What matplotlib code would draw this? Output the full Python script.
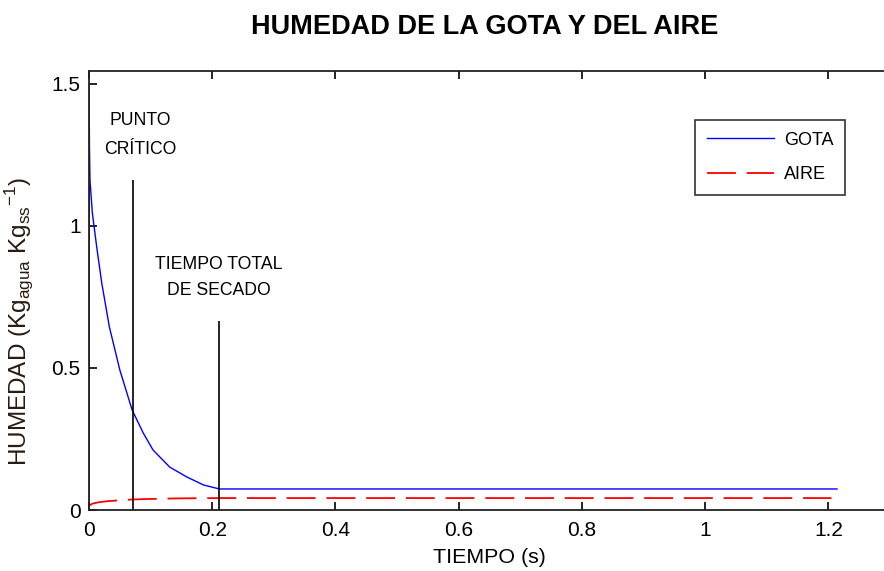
import numpy as np
import matplotlib.pyplot as plt

# Humedad de la gota (GOTA) y del aire (AIRE) frente al tiempo
t_gota = [0, 0.0008, 0.0016, 0.0054, 0.0125, 0.0206, 0.033, 0.050, 0.070,
          0.088, 0.104, 0.131, 0.159, 0.186, 0.2116, 1.214]
x_gota = [1.50, 1.27, 1.16, 1.046, 0.926, 0.80, 0.645, 0.493, 0.352,
          0.271, 0.211, 0.151, 0.116, 0.088, 0.074, 0.074]

t_aire = [0, 0.005, 0.015, 0.03, 0.05, 0.07, 0.1, 0.15, 0.21, 1.205]
x_aire = [0.015, 0.022, 0.027, 0.031, 0.034, 0.037, 0.039, 0.041, 0.042, 0.042]

# marcas verticales: inicio, punto critico y tiempo total de secado
t_marcas = [0, 0.071, 0.211]
h_marcas = [1.27, 1.16, 0.665]

plt.rcParams['font.family'] = ['Liberation Sans', 'DejaVu Sans']
plt.rcParams['mathtext.fontset'] = 'custom'
plt.rcParams['mathtext.rm'] = 'Liberation Sans'

fig = plt.figure(figsize=(8.84, 5.71), dpi=100)
ax = fig.add_axes([89/884, 61/571, 801/884, 439/571])

ax.plot(t_gota, x_gota, color='#0000ff', lw=1.0, label='GOTA')
ax.plot(t_aire, x_aire, color='#ff0000', lw=1.3, dashes=(16, 6), label='AIRE')
ax.vlines(t_marcas, 0, h_marcas, colors='black', lw=1.2)

ax.text(0.083, 1.37, 'PUNTO', ha='center', va='center', fontsize=12.7)
ax.text(0.083, 1.27, 'CRÍTICO', ha='center', va='center', fontsize=12.7)
ax.text(0.211, 0.865, 'TIEMPO TOTAL', ha='center', va='center', fontsize=12.7)
ax.text(0.211, 0.773, 'DE SECADO', ha='center', va='center', fontsize=12.7)

ax.set_xlim(0, 1.3)
ax.set_ylim(0, 1.545)
ax.set_xticks(np.arange(0, 1.21, 0.2))
ax.set_xticklabels(['0', '0.2', '0.4', '0.6', '0.8', '1', '1.2'])
ax.set_yticks([0, 0.5, 1, 1.5])
ax.set_yticklabels(['0', '0.5', '1', '1.5'])
ax.tick_params(direction='in', top=True, right=False, length=5.5, width=1.2,
               labelsize=15)
ax.tick_params(axis='x', pad=8)
ax.tick_params(axis='y', pad=6)
for s in ax.spines.values():
    s.set_linewidth(1.3)
    s.set_color('#222222')

ax.set_xlabel('TIEMPO (s)', fontsize=15.4, labelpad=6)
ax.set_ylabel('HUMEDAD (Kg$_{\\mathregular{agua}}$ Kg$_{\\mathregular{ss}}$$^{\\mathregular{-1}}$)',
              fontsize=17.5, color='#2a1a10')
ax.yaxis.set_label_coords((36 - 89) / 801, (510 - 322) / 439)

leg = ax.legend(loc='upper right', bbox_to_anchor=((845 - 89) / 801, 1 - (120 - 71) / 439),
                borderaxespad=0, frameon=True, fancybox=False, edgecolor='black',
                fontsize=13, handlelength=3.7, borderpad=0.65, labelspacing=0.95,
                handletextpad=0.55)
leg.get_frame().set_linewidth(1.2)

fig.text(485/884, 1 - 27/571, 'HUMEDAD DE LA GOTA Y DEL AIRE', ha='center',
         va='center', fontsize=19.5, fontweight='bold')

fig.savefig('out.png', dpi=100)
